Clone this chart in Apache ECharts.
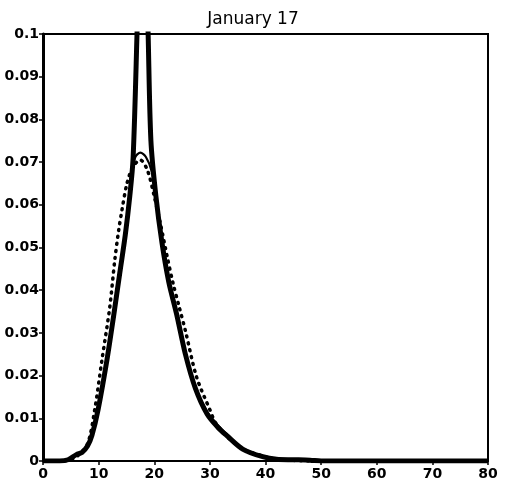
<!DOCTYPE html>
<html>
<head>
<meta charset="utf-8">
<script src="https://cdn.jsdelivr.net/npm/echarts@6/dist/echarts.min.js"></script>
<style>
  html, body { margin: 0; padding: 0; background: #fff; }
  #chart { width: 506px; height: 493px; }
</style>
</head>
<body>
<div id="chart"></div>
<script>
// thick solid curve (peak runs off the top)
var thickX = [0, 3, 4.5, 6, 7, 8, 8.8, 9.9, 11.5, 12.7, 13.8, 14.8, 15.6, 16.2, 16.9, 17.3, 17.9, 18.5, 18.9, 19.4, 20.3, 21.4, 22.6, 24.0, 25.6, 27.4, 29.5, 31.5, 33, 35.9, 39.5, 42, 45, 48, 50, 80];
var thickY = [0, 0, 0.0003, 0.0015, 0.002, 0.0035, 0.006, 0.012, 0.0237, 0.034, 0.044, 0.053, 0.062, 0.071, 0.1, 0.12, 0.15, 0.12, 0.1, 0.075, 0.062, 0.051, 0.042, 0.0345, 0.025, 0.017, 0.011, 0.0078, 0.006, 0.0028, 0.001, 0.0004, 0.0003, 0.0002, 0, 0];
// thin solid curve
var thinX = [0, 3, 4.5, 6, 7, 8, 8.8, 9.9, 11.5, 12.7, 13.8, 14.8, 15.6, 16.1, 16.6, 17.5, 18.5, 19.5, 20.3, 21.4, 22.6, 24.0, 25.6, 27.4, 29.5, 31.5, 33, 35.9, 39.5, 42, 45, 48, 50, 80];
var thinY = [0, 0, 0.0003, 0.0015, 0.002, 0.0035, 0.006, 0.012, 0.0237, 0.034, 0.044, 0.053, 0.062, 0.068, 0.0712, 0.0722, 0.0712, 0.068, 0.062, 0.051, 0.042, 0.0345, 0.025, 0.017, 0.0115, 0.0083, 0.0063, 0.0028, 0.001, 0.0004, 0.0003, 0.0002, 0, 0];
// dotted curve
var dotX = [4, 6, 8, 9.3, 10.6, 12.0, 12.9, 13.6, 14.2, 15.1, 16.2, 17.5, 18.8, 20.0, 21.2, 22.3, 23.4, 24.5, 25.6, 27.6, 30, 31, 33, 36, 40, 42, 48];
var dotY = [0, 0.001, 0.004, 0.012, 0.0237, 0.036, 0.047, 0.054, 0.0588, 0.065, 0.069, 0.0705, 0.068, 0.062, 0.055, 0.048, 0.0415, 0.036, 0.0305, 0.0197, 0.012, 0.009, 0.0058, 0.0028, 0.001, 0.0004, 0];

function pairs(xs, ys) {
    return xs.map(function (x, i) { return [x, ys[i]]; });
}

var chart = echarts.init(document.getElementById('chart'));
var txt = {color: '#000', fontFamily: 'DejaVu Sans, sans-serif', fontSize: 14, fontWeight: 'bold'};

var option = {
    animation: false,
    title: {
        text: 'January 17',
        left: 'center',
        top: 6,
        textStyle: {color: '#000', fontFamily: 'DejaVu Sans, sans-serif', fontSize: 17, fontWeight: 'normal'}
    },
    grid: {left: 43, right: 18, top: 34, bottom: 32, show: true, borderColor: '#000', borderWidth: 2},
    xAxis: {
        type: 'value', min: 0, max: 80, interval: 10,
        splitLine: {show: false},
        axisLine: {lineStyle: {color: '#000', width: 2}},
        axisTick: {length: 4, lineStyle: {color: '#000', width: 1.5}},
        axisLabel: Object.assign({margin: 6}, txt)
    },
    yAxis: {
        type: 'value', min: 0, max: 0.1, interval: 0.01,
        splitLine: {show: false},
        axisLine: {show: true, lineStyle: {color: '#000', width: 3}},
        axisTick: {length: 4, lineStyle: {color: '#000', width: 1.5}},
        axisLabel: Object.assign({
            margin: 4,
            formatter: function (v) { return v === 0 ? '0' : String(+v.toFixed(2)); }
        }, txt)
    },
    series: [
        {
            type: 'line', data: pairs(dotX, dotY), symbol: 'none', smooth: 0.3,
            lineStyle: {color: '#000', width: 3.5, type: [1, 6], cap: 'round'}
        },
        {
            type: 'line', data: pairs(thinX, thinY), symbol: 'none', smooth: 0.3,
            lineStyle: {color: '#000', width: 2.2}
        },
        {
            type: 'line', data: pairs(thickX, thickY), symbol: 'none', smooth: 0.3,
            lineStyle: {color: '#000', width: 5}
        }
    ]
};

chart.setOption(option);
</script>
</body>
</html>
